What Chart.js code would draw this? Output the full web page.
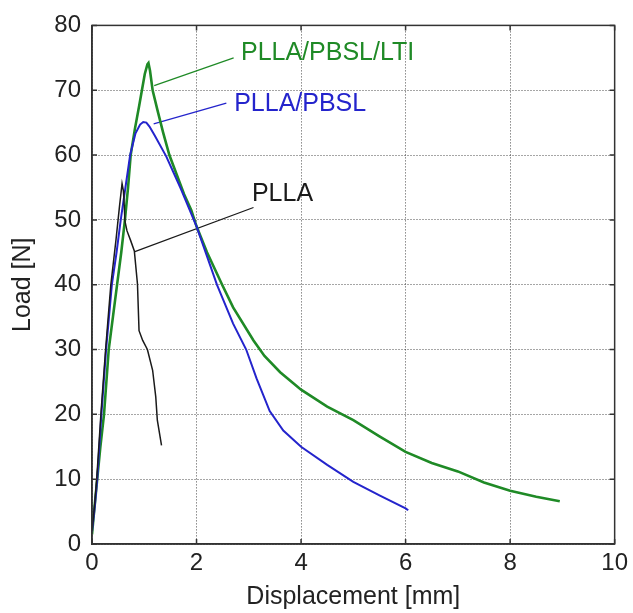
<!DOCTYPE html>
<html>
<head>
<meta charset="utf-8">
<script src="https://cdn.jsdelivr.net/npm/chart.js@4.4.0/dist/chart.umd.min.js"></script>
<style>
  html,body{margin:0;padding:0;background:#fff}
</style>
</head>
<body>
<canvas id="chart" width="633" height="613"></canvas>
<script>
// === data ===
const xTicks = [0, 2, 4, 6, 8, 10];
const yTicks = [0, 10, 20, 30, 40, 50, 60, 70, 80];

// PLLA/PBSL/LTI (green)
const lteX = [0, 0.04, 0.10, 0.16, 0.23, 0.32, 0.40, 0.48, 0.56, 0.63, 0.69, 0.74, 0.82, 0.90, 0.955, 1.01, 1.06, 1.08, 1.11, 1.16, 1.25, 1.36, 1.48, 1.62, 1.76, 1.9, 2.0, 2.2, 2.49, 2.7, 3.09, 3.3, 3.6, 4.0, 4.5, 5.0, 5.5, 6.0, 6.5, 7.0, 7.5, 8.0, 8.5, 8.95];
const lteY = [1.5, 5, 10, 15, 20, 30, 35, 40, 45, 50, 55, 60, 64, 67.5, 70, 72.5, 74, 74.2, 73, 70, 67, 63.5, 60, 57, 54, 51.5, 49, 45, 40, 36.5, 31.4, 29, 26.5, 23.8, 21.2, 19.1, 16.6, 14.2, 12.5, 11.2, 9.5, 8.2, 7.3, 6.6];

// PLLA/PBSL (blue)
const pbslX = [0, 0.05, 0.10, 0.18, 0.27, 0.38, 0.47, 0.55, 0.64, 0.73, 0.83, 0.92, 0.98, 1.04, 1.1, 1.2, 1.42, 1.7, 2.0, 2.39, 2.7, 2.95, 3.15, 3.4, 3.66, 4.0, 4.5, 5.0, 5.5, 6.0, 6.05];
const pbslY = [1.9, 5.5, 10, 20, 30, 40, 45, 50, 55, 60, 63.3, 64.7, 65.1, 65.0, 64.4, 63, 59.8, 54.8, 49, 40, 34, 30, 25.5, 20.5, 17.5, 15, 12.2, 9.6, 7.5, 5.5, 5.2];

// PLLA (black)
const pllaX = [0, 0.05, 0.09, 0.17, 0.26, 0.36, 0.46, 0.525, 0.575, 0.60, 0.61, 0.63, 0.67, 0.74, 0.81, 0.87, 0.90, 0.97, 1.06, 1.16, 1.22, 1.25, 1.33];
const pllaY = [2, 6, 10, 20, 30, 40, 47, 52, 55.6, 54.5, 53.4, 49.8, 48.3, 46.8, 45.2, 40.1, 32.9, 31.4, 30, 26.8, 22.7, 19.1, 15.2];

// labels and their leader lines (data units)
const labelText = ["PLLA/PBSL/LTI", "PLLA/PBSL", "PLLA"];
const labelX = [2.85, 2.72, 3.06];
const labelY = [75.7, 67.8, 54.0];
const leaderX = [[1.19, 2.71], [1.18, 2.57], [0.82, 3.09]];
const leaderY = [[70.7, 75.0], [64.8, 68.0], [45.1, 51.9]];

const green = "#1f8a26";
const blue = "#2424cc";
const black = "#1a1a1a";
const labelColors = [green, blue, black];
const font = 'Arial, "Liberation Sans", sans-serif';

function pts(xs, ys){ return xs.map((x,i)=>({x:x, y:ys[i]})); }

// === frame, inward ticks and labels ===
const framePlugin = {
  id: "frame",
  afterDraw(chart){
    const {ctx, chartArea:a, scales:{x, y}} = chart;
    ctx.save();
    ctx.strokeStyle = "#333"; ctx.lineWidth = 1.5;
    ctx.strokeRect(a.left, a.top, a.right-a.left, a.bottom-a.top);
    ctx.beginPath();
    xTicks.forEach(v=>{
      const p = x.getPixelForValue(v);
      ctx.moveTo(p, a.bottom); ctx.lineTo(p, a.bottom-5);
      ctx.moveTo(p, a.top); ctx.lineTo(p, a.top+5);
    });
    yTicks.forEach(v=>{
      const p = y.getPixelForValue(v);
      ctx.moveTo(a.left, p); ctx.lineTo(a.left+5, p);
      ctx.moveTo(a.right, p); ctx.lineTo(a.right-5, p);
    });
    ctx.stroke();
    ctx.font = "25px " + font;
    ctx.textBaseline = "middle";
    ctx.textAlign = "left";
    labelText.forEach((t,i)=>{
      ctx.fillStyle = labelColors[i];
      ctx.fillText(t, x.getPixelForValue(labelX[i]), y.getPixelForValue(labelY[i]));
    });
    ctx.restore();
  }
};

const curve = (data, color, w) => ({
  data: data, borderColor: color, borderWidth: w, pointRadius: 0,
  tension: 0, fill: false
});

new Chart(document.getElementById("chart"), {
  type: "line",
  data: {
    datasets: [
      curve(pts(pllaX, pllaY), black, 1.5),
      curve(pts(pbslX, pbslY), blue, 2),
      curve(pts(lteX, lteY), green, 2.6),
      curve(pts(leaderX[0], leaderY[0]), green, 1.2),
      curve(pts(leaderX[1], leaderY[1]), blue, 1.2),
      curve(pts(leaderX[2], leaderY[2]), black, 1.2)
    ]
  },
  options: {
    responsive: false,
    animation: false,
    devicePixelRatio: 1,
    layout: { padding: { top: 24, right: 14, left: 0, bottom: 0 } },
    plugins: { legend: { display: false }, tooltip: { enabled: false } },
    scales: {
      x: {
        type: "linear", min: 0, max: 10,
        afterBuildTicks: s => { s.ticks = xTicks.map(v=>({value:v})); },
        afterFit: s => { s.height = 69; },
        ticks: { color: "#222", padding: 5, font: { size: 24, family: font } },
        grid: { color: "rgba(0,0,0,0.7)", lineWidth: 1, drawTicks: false },
        border: { display: true, color: "#333", width: 1.5, dash: [1, 2] },
        title: { display: true, text: "Displacement [mm]", color: "#222",
          font: { size: 25, family: font }, padding: { top: 0, bottom: 1 } }
      },
      y: {
        type: "linear", min: 0, max: 80,
        afterBuildTicks: s => { s.ticks = yTicks.map(v=>({value:v})); },
        afterFit: s => { s.width = 92; },
        ticks: { color: "#222", padding: 11, font: { size: 24, family: font } },
        grid: { color: "rgba(0,0,0,0.7)", lineWidth: 1, drawTicks: false },
        border: { display: true, color: "#333", width: 1.5, dash: [1, 2] },
        title: { display: true, text: "Load [N]", color: "#222",
          font: { size: 25, family: font }, padding: { top: 8, bottom: 0 } }
      }
    }
  },
  plugins: [framePlugin]
});
</script>
</body>
</html>
